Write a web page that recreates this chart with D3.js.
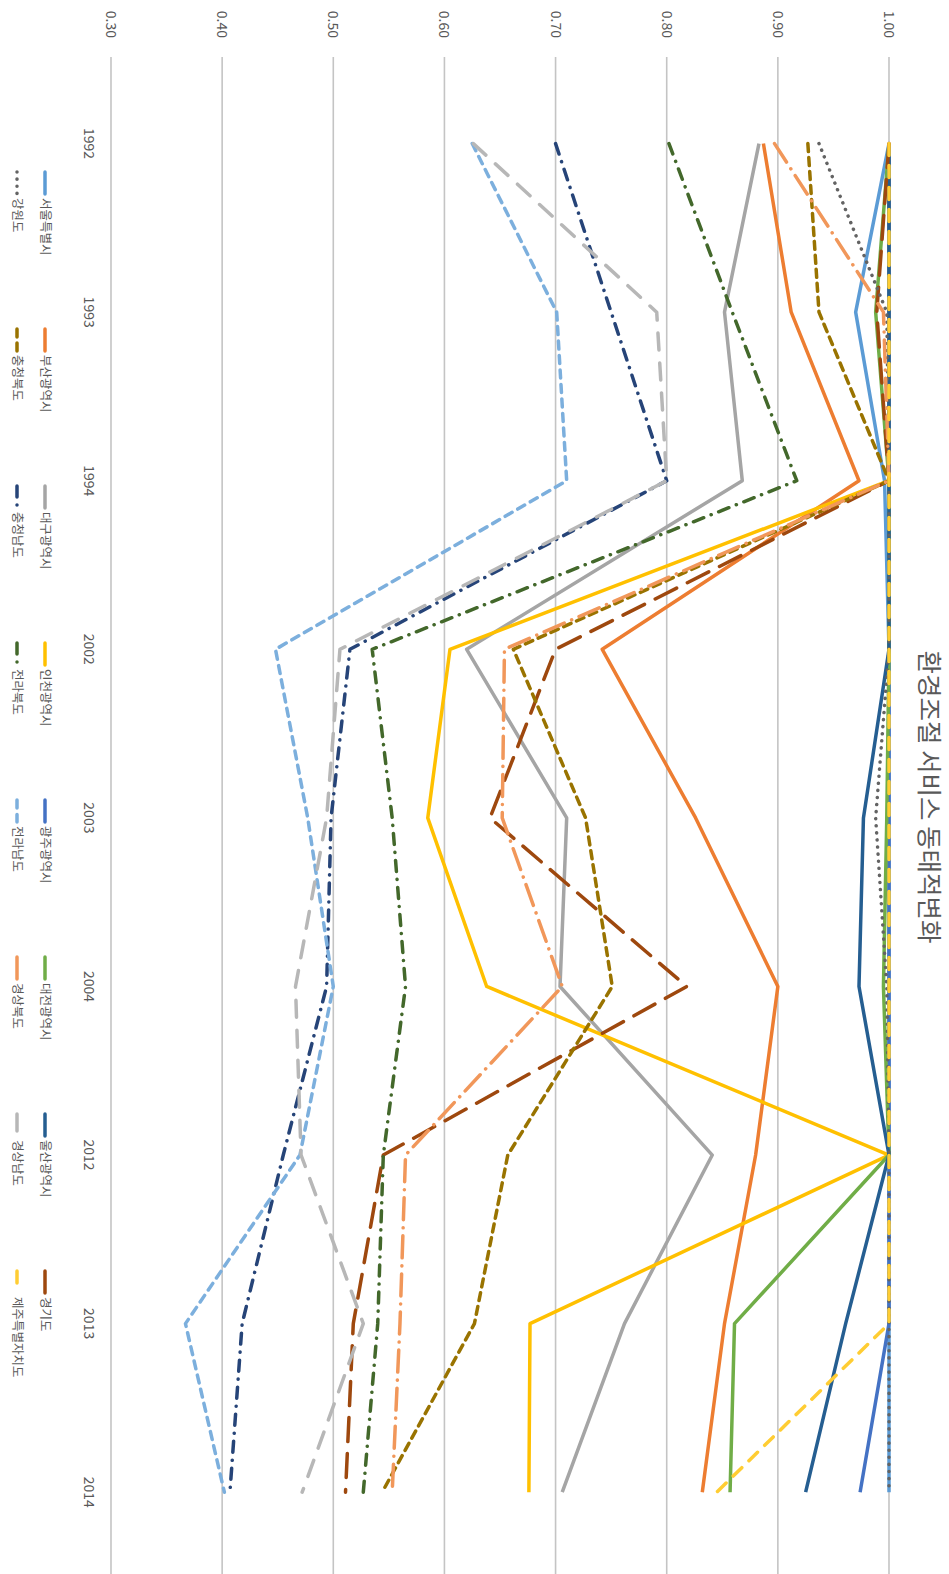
<!DOCTYPE html>
<html>
<head>
<meta charset="utf-8">
<script src="https://cdn.jsdelivr.net/npm/d3@7"></script>
<style>
  body { margin: 0; background: #fff; }
  svg { display: block; }
  text { font-family: "Noto Sans CJK KR", "Noto Sans", sans-serif; }
</style>
</head>
<body>
<svg id="chart" width="949" height="1574"></svg>
<script>
// Survey years (category axis) and value-axis ticks
const years = ["1992", "1993", "1994", "2002", "2003", "2004", "2012", "2013", "2014"];
const valueTicks = [0.30, 0.40, 0.50, 0.60, 0.70, 0.80, 0.90, 1.00];
const chartTitle = "환경조절 서비스 동태적변화";

// Regions, in legend order
const regions = ["서울특별시", "부산광역시", "대구광역시", "인천광역시", "광주광역시", "대전광역시",
  "울산광역시", "경기도", "강원도", "충청북도", "충청남도", "전라북도", "전라남도", "경상북도",
  "경상남도", "제주특별자치도"];

// Efficiency values per region, one per survey year
const seoul    = [1.000, 0.970, 0.996, 1.000, 1.000, 1.000, 1.000, 1.000, 1.000];
const busan    = [0.887, 0.912, 0.973, 0.742, 0.826, 0.900, 0.880, 0.852, 0.832];
const daegu    = [0.883, 0.852, 0.868, 0.620, 0.710, 0.704, 0.841, 0.762, 0.706];
const incheon  = [1.000, 1.000, 1.000, 0.605, 0.585, 0.638, 1.000, 0.677, 0.676];
const gwangju  = [1.000, 1.000, 1.000, 1.000, 1.000, 1.000, 1.000, 1.000, 0.974];
const daejeon  = [1.000, 0.988, 1.000, 1.000, 0.998, 0.995, 1.000, 0.861, 0.857];
const ulsan    = [1.000, 1.000, 1.000, 1.000, 0.977, 0.973, 1.000, 0.961, 0.925];
const gyeonggi = [1.000, 0.989, 1.000, 0.700, 0.641, 0.818, 0.545, 0.518, 0.511];
const gangwon  = [0.937, 0.998, 1.000, 1.000, 0.988, 0.998, 1.000, 1.000, 1.000];
const chungbuk = [0.927, 0.937, 1.000, 0.662, 0.727, 0.751, 0.657, 0.627, 0.544];
const chungnam = [0.700, 0.750, 0.800, 0.515, 0.498, 0.494, 0.455, 0.418, 0.407];
const jeonbuk  = [0.802, 0.859, 0.917, 0.535, 0.553, 0.565, 0.545, 0.540, 0.527];
const jeonnam  = [0.625, 0.701, 0.710, 0.448, 0.477, 0.500, 0.470, 0.367, 0.402];
const gyeongbuk= [0.897, 0.995, 1.000, 0.654, 0.652, 0.706, 0.565, 0.560, 0.553];
const gyeongnam= [0.626, 0.791, 0.800, 0.506, 0.494, 0.466, 0.471, 0.527, 0.472];
const jeju     = [1.000, 1.000, 1.000, 1.000, 1.000, 1.000, 1.000, 1.000, 0.845];

const seriesValues = [seoul, busan, daegu, incheon, gwangju, daejeon, ulsan, gyeonggi,
  gangwon, chungbuk, chungnam, jeonbuk, jeonnam, gyeongbuk, gyeongnam, jeju];

// Line styles (colour, dash pattern) per region
const lineColors = ["#5B9BD5", "#ED7D31", "#A5A5A5", "#FFC000", "#4472C4", "#70AD47",
  "#255E91", "#9E480E", "#636363", "#997300", "#264478", "#43682B", "#7CAFDD", "#F1975A",
  "#B7B7B7", "#FFCD33"];
const lineDashes = [null, null, null, null, null, null, null,
  "24,12", "0.1,7", "8,6", "11,8,0.1,8", "11,8,0.1,8", "8,6.5", "22,8,0.1,8", "17,13", "12,10"];

// ---- Layout (chart is laid out landscape, then turned a quarter turn clockwise) ----
const W = 1574, H = 949;
const svg = d3.select("#chart");
const g = svg.append("g").attr("transform", `translate(${H},0) rotate(90)`);

const x = d3.scaleBand().domain(years).range([59.3, 1576.5]).padding(0);
const y = d3.scaleLinear().domain([0.30, 1.00]).range([838, 60]);
const cx = d => x(d) + x.bandwidth() / 2;

// Horizontal gridlines
g.append("g").selectAll("line").data(valueTicks).join("line")
  .attr("x1", 57).attr("x2", W)
  .attr("y1", d => y(d)).attr("y2", d => y(d))
  .attr("stroke", "#C4C4C4").attr("stroke-width", 1.6);

// Value axis labels
const yAxis = g.append("g").attr("transform", "translate(38,0)")
  .call(d3.axisLeft(y).tickValues(valueTicks).tickFormat(d3.format(".2f")).tickSize(0).tickPadding(0));
yAxis.select(".domain").remove();
yAxis.selectAll("text").attr("fill", "#595959").attr("font-size", 14)
  .attr("font-family", "'Noto Sans CJK KR', sans-serif");

// Category axis labels
const xAxis = g.append("g").attr("transform", "translate(0,838)")
  .call(d3.axisBottom(x).tickSize(0).tickPadding(17));
xAxis.select(".domain").remove();
xAxis.selectAll("text").attr("fill", "#595959").attr("font-size", 14)
  .attr("font-family", "'Noto Sans CJK KR', sans-serif");

// Title
g.append("text").attr("x", 797).attr("y", 29).attr("text-anchor", "middle")
  .attr("fill", "#595959").attr("font-size", 25.5).text(chartTitle);

// Series lines
const line = d3.line().x((d, i) => cx(years[i])).y(d => y(d));
const seriesG = g.append("g").attr("fill", "none").attr("stroke-width", 3.5)
  .attr("stroke-linejoin", "round");
seriesValues.forEach((vals, k) => {
  seriesG.append("path").datum(vals)
    .attr("d", line)
    .attr("stroke", lineColors[k])
    .attr("stroke-dasharray", lineDashes[k])
    .attr("stroke-linecap", lineDashes[k] ? "round" : "butt");
});

// Legend: two rows of eight entries
const legendCols = 8, legendX0 = 172, legendStep = 157, legendRowY = [904, 932];
const legend = g.append("g");
regions.forEach((name, k) => {
  const col = k % legendCols, row = Math.floor(k / legendCols);
  const lx = legendX0 + col * legendStep, ly = legendRowY[row];
  const it = legend.append("g").attr("transform", `translate(${lx},${ly})`);
  it.append("line").attr("x1", 0).attr("x2", 22).attr("y1", 0).attr("y2", 0)
    .attr("stroke", lineColors[k]).attr("stroke-width", 3.5)
    .attr("stroke-dasharray", lineDashes[k])
    .attr("stroke-linecap", "round");
  it.append("text").attr("x", 26).attr("y", 0).attr("dy", "0.35em")
    .attr("fill", "#595959").attr("font-size", 12.5).text(name);
});
</script>
</body>
</html>
